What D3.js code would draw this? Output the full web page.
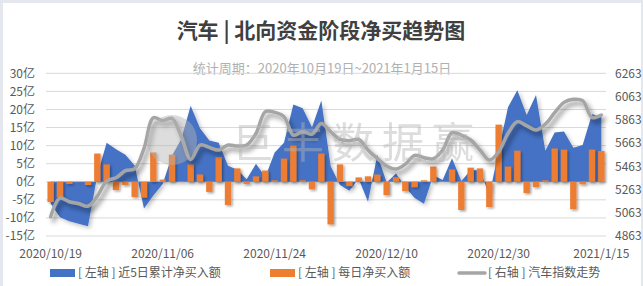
<!DOCTYPE html>
<html>
<head>
<meta charset="utf-8">
<script src="https://cdn.jsdelivr.net/npm/d3@7"></script>
<style>
  body { margin: 0; background: #e4e8ee; }
  text { font-family: "Microsoft YaHei", "Noto Sans CJK SC", sans-serif; }
</style>
</head>
<body>
<svg id="chart" width="643" height="286"></svg>
<script>
// daily net buy (亿), one value per trading day
const dailyNet = [
  -5.6, -4.3, -0.6, -0.1, -0.9, 7.8, 4.8, -2.3, -0.9, -4.2,
  -4.4, 8.1, 0.6, 7.5, 0.1, 4.8, 2.0, -2.8, 6.8, -6.4,
  3.7, -0.6, 1.5, 3.1, 0.4, 6.4, 10.0, 0.4, -2.1, 7.8,
  -11.8, 4.8, -1.2, 1.2, 1.5, 2.0, -3.7, 1.3, -2.6, -1.5,
  0.4, 4.2, 0.1, 3.4, -7.8, 3.9, 3.7, -7.0, 15.8, 4.2,
  8.6, -3.1, -1.5, 0.4, 9.2, 8.9, -7.6, -0.7, 8.9, 8.5
];
// 5-day cumulative net buy (亿)
const netBuy5d = [
  -6.0, -9.8, -10.9, -11.6, -12.3, 1.9, 10.8, 9.0, 7.5, 4.5,
  -7.4, -3.8, -0.6, 7.2, 11.8, 21.0, 14.8, 11.4, 10.8, 4.4,
  3.3, 0.7, 5.0, 1.3, 8.1, 10.8, 21.4, 20.3, 15.1, 22.5,
  4.3, -0.9, -2.5, 0.8, -5.5, 7.5, -0.2, 2.3, -1.5, -4.5,
  -6.1, 1.8, 0.5, 6.5, 0.2, 3.2, 3.2, -3.8, 8.6, 20.6,
  25.3, 18.5, 24.0, 8.6, 13.6, 13.9, 9.4, 10.2, 18.7, 18.0
];
// auto sector index (right axis)
const autoIndex = [
  5029, 5189, 5158, 5143, 5120, 5206, 5336, 5364, 5425, 5442,
  5617, 5881, 5855, 5875, 5717, 5522, 5646, 5626, 5603, 5646,
  5637, 5646, 5746, 5933, 5927, 5890, 5732, 5760, 5740, 5832,
  5760, 5694, 5683, 5694, 5603, 5531, 5465, 5439, 5482, 5557,
  5537, 5528, 5603, 5752, 5732, 5689, 5603, 5516, 5588, 5746,
  5847, 5812, 5775, 5826, 5924, 6013, 6039, 6027, 5884, 5904
];
const xTickIndex = [0, 12, 24, 36, 48, 59];
const xTickLabels = ['2020/10/19', '2020/11/06', '2020/11/24', '2020/12/10', '2020/12/30', '2021/1/15'];
const leftTicks = [-15, -10, -5, 0, 5, 10, 15, 20, 25, 30];
const rightTicks = [4863, 5063, 5263, 5463, 5663, 5863, 6063, 6263];
const legendItems = ['[ 左轴 ] 近5日累计净买入额', '[ 左轴 ] 每日净买入额', '[ 右轴 ] 汽车指数走势'];

const BLUE = '#4472c4', ORANGE = '#ed7d31', GRAY = '#a5a5a5';

const svg = d3.select('#chart');

// white card
svg.append('rect')
  .attr('x', 3).attr('y', 3).attr('width', 638).attr('height', 283)
  .attr('fill', '#fff');

// shadows (Excel style)
const defs = svg.append('defs');
function shadow(id, dx, dy, sd, op) {
  defs.append('filter').attr('id', id)
    .attr('x', '-20%').attr('y', '-20%').attr('width', '140%').attr('height', '140%')
    .append('feDropShadow')
      .attr('dx', dx).attr('dy', dy).attr('stdDeviation', sd)
      .attr('flood-color', '#000').attr('flood-opacity', op);
}
shadow('barShadow', 1.5, 1.5, 1.2, 0.35);
shadow('areaShadow', 2, 2, 2, 0.25);
shadow('lineShadow', 3, 4, 2.5, 0.45);

// titles
svg.append('text')
  .attr('x', 321).attr('y', 38)
  .attr('text-anchor', 'middle')
  .attr('font-size', 21).attr('font-weight', 'bold')
  .attr('fill', '#404040')
  .text('汽车 | 北向资金阶段净买趋势图');
svg.append('text')
  .attr('x', 322).attr('y', 73)
  .attr('text-anchor', 'middle')
  .attr('font-size', 13)
  .attr('fill', '#b0b0b0')
  .text('统计周期：2020年10月19日~2021年1月15日');

// scales
const plotLeft = 46, plotRight = 606, plotTop = 73.3, plotBottom = 236;
const x = d3.scaleBand()
  .domain(d3.range(dailyNet.length))
  .range([plotLeft, plotRight]);
const xc = i => x(i) + x.bandwidth() / 2;
const yL = d3.scaleLinear().domain([-15, 30]).range([plotBottom, plotTop]);
const yR = d3.scaleLinear().domain([4863, 6263]).range([plotBottom, plotTop]);

// gridlines
svg.append('g')
  .selectAll('line')
  .data(leftTicks)
  .enter()
  .append('line')
    .attr('x1', plotLeft).attr('x2', plotRight)
    .attr('y1', d => yL(d)).attr('y2', d => yL(d))
    .attr('stroke', '#d9d9d9').attr('stroke-width', 1);

// axes
const axisLeft = svg.append('g')
  .attr('transform', 'translate(' + plotLeft + ',0)')
  .call(d3.axisLeft(yL).tickValues(leftTicks).tickFormat(d => d + '亿').tickSize(0).tickPadding(11));
const axisRight = svg.append('g')
  .attr('transform', 'translate(' + plotRight + ',0)')
  .call(d3.axisRight(yR).tickValues(rightTicks).tickFormat(d3.format('d')).tickSize(0).tickPadding(9));
const axisBottom = svg.append('g')
  .attr('transform', 'translate(0,' + plotBottom + ')')
  .call(d3.axisBottom(x).tickValues(xTickIndex)
    .tickFormat(d => xTickLabels[xTickIndex.indexOf(d)]).tickSize(0).tickPadding(13));
[axisLeft, axisRight, axisBottom].forEach(g => {
  g.select('.domain').remove();
  g.selectAll('text')
    .attr('font-size', 12)
    .attr('fill', '#595959')
    .style('font-family', '"Microsoft YaHei", "Noto Sans CJK SC", sans-serif');
});

// blue area: 5-day cumulative
svg.append('path')
  .datum(netBuy5d)
  .attr('fill', BLUE)
  .attr('filter', 'url(#areaShadow)')
  .attr('d', d3.area()
    .x((d, i) => xc(i))
    .y0(yL(0))
    .y1(d => yL(d)));

// orange bars: daily
const barW = x.bandwidth() * 0.68;
svg.append('g')
  .attr('filter', 'url(#barShadow)')
  .selectAll('rect')
  .data(dailyNet)
  .enter()
  .append('rect')
    .attr('x', (d, i) => xc(i) - barW / 2)
    .attr('width', barW)
    .attr('y', d => yL(Math.max(0, d)))
    .attr('height', d => Math.abs(yL(d) - yL(0)))
    .attr('fill', ORANGE);

// gray line: index
svg.append('path')
  .datum(autoIndex)
  .attr('fill', 'none')
  .attr('stroke', GRAY)
  .attr('stroke-width', 3.5)
  .attr('stroke-linejoin', 'round')
  .attr('stroke-linecap', 'round')
  .attr('filter', 'url(#lineShadow)')
  .attr('d', d3.line()
    .curve(d3.curveCatmullRom.alpha(0.5))
    .x((d, i) => xc(i))
    .y(d => yR(d)));

// watermark
const wm = svg.append('g').attr('opacity', 0.45).attr('fill', '#b4b4b4');
wm.append('circle').attr('cx', 172).attr('cy', 140).attr('r', 25);
wm.selectAll('text')
  .data('巨丰数据赢'.split(''))
  .enter()
  .append('text')
    .attr('x', (d, i) => 253 + i * 50)
    .attr('y', 158)
    .attr('text-anchor', 'middle')
    .attr('font-size', 42)
    .text(d => d);

// legend
const legendX = [50, 270, 458];
const legendY = 273;
const lg = svg.append('g')
  .selectAll('g')
  .data(legendItems)
  .enter()
  .append('g')
    .attr('transform', (d, i) => 'translate(' + legendX[i] + ',' + legendY + ')');
lg.each(function(d, i) {
  const g = d3.select(this);
  if (i < 2) {
    g.append('rect').attr('x', 0).attr('y', -4).attr('width', 25).attr('height', 8)
      .attr('fill', i === 0 ? BLUE : ORANGE);
  } else {
    g.append('line').attr('x1', 1).attr('x2', 27).attr('y1', 0).attr('y2', 0)
      .attr('stroke', GRAY).attr('stroke-width', 3.5).attr('stroke-linecap', 'round');
  }
  g.append('text')
    .attr('x', i < 2 ? 28 : 30)
    .attr('dy', '0.35em')
    .attr('font-size', 12)
    .attr('fill', '#595959')
    .text(d);
});
</script>
</body>
</html>
